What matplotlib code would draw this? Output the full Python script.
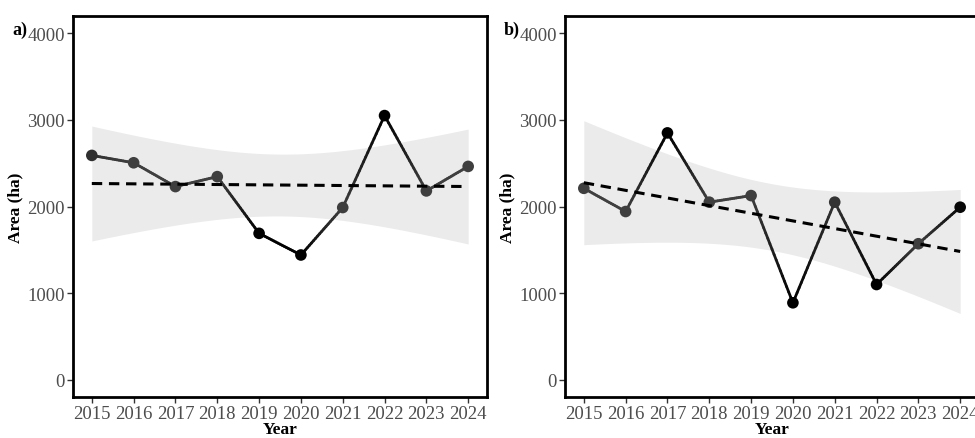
import numpy as np
import matplotlib.pyplot as plt
from matplotlib.collections import LineCollection
from matplotlib.colors import LinearSegmentedColormap

years = np.array([2015, 2016, 2017, 2018, 2019, 2020, 2021, 2022, 2023, 2024])
area_a = np.array([2590, 2505, 2230, 2345, 1690, 1440, 1988, 3050, 2180, 2463])
area_b = np.array([2210, 1942, 2850, 2050, 2126, 888, 2050, 1099, 1570, 1992])
panel_labels = ["a)", "b)"]
y_ticks = [0, 1000, 2000, 3000, 4000]

plt.rcParams['font.family'] = ['Liberation Serif', 'DejaVu Serif']

fig = plt.figure(figsize=(9.75, 4.39), dpi=100)
ax_a = fig.add_axes([73 / 975, 41 / 439, 414 / 975, 381 / 439])
ax_b = fig.add_axes([565 / 975, 41 / 439, 414 / 975, 381 / 439])

# dark grey for points near the trend, black for the big departures
shade = LinearSegmentedColormap.from_list("shade", ["#3f3f3f", "#000000"])


def lm_band(x, y, xs):
    # ordinary least squares fit with a 95% confidence band (t, df = n - 2)
    n = len(x)
    slope, icpt = np.polyfit(x, y, 1)
    fit = icpt + slope * x
    s = np.sqrt(np.sum((y - fit) ** 2) / (n - 2))
    sxx = np.sum((x - x.mean()) ** 2)
    se = s * np.sqrt(1 / n + (xs - x.mean()) ** 2 / sxx)
    t = 2.306
    ys = icpt + slope * xs
    return ys, ys - t * se, ys + t * se, fit


for ax, vals, lab in zip([ax_a, ax_b], [area_a, area_b], panel_labels):
    xs = np.linspace(years[0], years[-1], 200)
    ys, lo, hi, fit = lm_band(years.astype(float), vals.astype(float), xs)
    ax.fill_between(xs, lo, hi, color="#EBEBEB", lw=0, zorder=1)

    resid = np.abs(vals - fit)
    level = np.clip((resid - 250) / 300, 0, 1)

    # split each link into short pieces so the shade blends point to point
    segs, seg_level = [], []
    for i in range(len(years) - 1):
        f = np.linspace(0, 1, 21)
        px = years[i] + f * (years[i + 1] - years[i])
        py = vals[i] + f * (vals[i + 1] - vals[i])
        lv = level[i] + f * (level[i + 1] - level[i])
        for j in range(20):
            segs.append([(px[j], py[j]), (px[j + 1], py[j + 1])])
            seg_level.append(0.5 * (lv[j] + lv[j + 1]))
    lc = LineCollection(segs, colors=shade(np.array(seg_level)),
                        linewidths=2.0, capstyle="round", zorder=2)
    ax.add_collection(lc)
    ax.scatter(years, vals, s=70, c=shade(level), edgecolors="none", zorder=3)

    ax.plot(xs, ys, color="black", lw=2.2, dashes=(3.4, 2.2), zorder=4)

    ax.set_xlim(2014.55, 2024.45)
    ax.set_ylim(-200, 4200)
    ax.set_xticks(years)
    ax.set_yticks(y_ticks)
    ax.tick_params(direction="out", length=4, width=1, color="#333333",
                   labelsize=13.5, labelcolor="#4D4D4D", pad=2)
    for sp in ax.spines.values():
        sp.set_linewidth(2)
        sp.set_color("black")
    ax.set_xlabel("Year", fontsize=12.5, fontweight="bold", labelpad=-1)
    ax.set_ylabel("Area (ha)", fontsize=12.5, fontweight="bold", labelpad=3)
    ax.text(-0.147, 0.965, lab, transform=ax.transAxes, fontsize=13,
            fontweight="bold", ha="left", va="center")

fig.savefig("out.png", dpi=100)
